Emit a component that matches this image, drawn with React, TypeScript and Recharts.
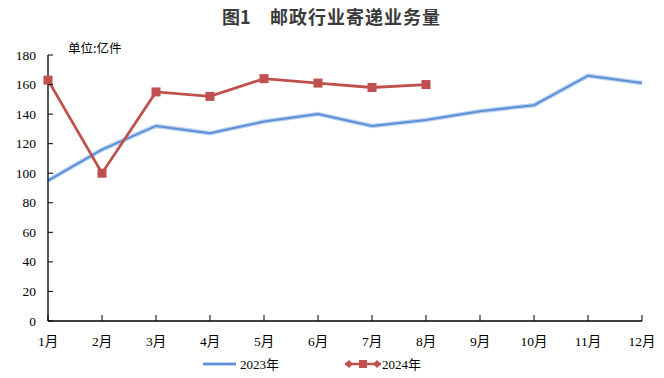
import React from 'react';
import { LineChart, Line, XAxis, YAxis, Legend } from 'recharts';

const months = ['1月', '2月', '3月', '4月', '5月', '6月', '7月', '8月', '9月', '10月', '11月', '12月'];
const y2023 = [95, 116, 132, 127, 135, 140, 132, 136, 142, 146, 166, 161];
const y2024: (number | null)[] = [163, 100, 155, 152, 164, 161, 158, 160, null, null, null, null];
const yTicks = [0, 20, 40, 60, 80, 100, 120, 140, 160, 180];

const data = months.map((m, i) => ({ month: m, a: y2023[i], b: y2024[i] }));

const BLUE = '#5b8fd6';
const BLUE_HALO = '#bcd2f0';
const RED = '#c0504d';
const FONT = '"Liberation Serif", "Noto Sans CJK SC", serif';

const XTick = (props: any) => {
  const { x, y, payload } = props;
  return (
    <g>
      <line x1={x} y1={y} x2={x} y2={y - 6} stroke="#000" strokeWidth={1} />
      <text x={x} y={y + 25} textAnchor="middle" fontSize={13.5} fill="#000" fontFamily={FONT}>
        {payload.value}
      </text>
    </g>
  );
};

const YTick = (props: any) => {
  const { x, y, payload } = props;
  return (
    <g>
      <line x1={x} y1={y} x2={x + 5} y2={y} stroke="#000" strokeWidth={1} />
      <text x={x - 12} y={y + 4.5} textAnchor="end" fontSize={13.5} fill="#000" fontFamily={FONT}>
        {payload.value}
      </text>
    </g>
  );
};

const LegendContent = () => (
  <svg width={664} height={20}>
    <line x1={203} y1={10} x2={236} y2={10} stroke={BLUE_HALO} strokeWidth={4} />
    <line x1={203} y1={10} x2={236} y2={10} stroke={BLUE} strokeWidth={2} />
    <text x={240} y={15} fontSize={13} fontFamily={FONT} fill="#000">2023年</text>
    <line x1={345} y1={10} x2={381} y2={10} stroke={RED} strokeWidth={2.5} />
    <path d="M345,10 L349,6 L353,10 L349,14 Z" fill={RED} />
    <rect x={359} y={6} width={8} height={8} fill={RED} />
    <path d="M373,10 L377,6 L381,10 L377,14 Z" fill={RED} />
    <text x={382} y={15} fontSize={13} fontFamily={FONT} fill="#000">2024年</text>
  </svg>
);

const SquareDot = (props: any) => {
  const { cx, cy, value } = props;
  if (value == null || cx == null) return null;
  return <rect x={cx - 4.5} y={cy - 4.5} width={9} height={9} fill={RED} />;
};

const titleStyle: React.CSSProperties = {
  position: 'absolute', top: 4, fontSize: 18, fontWeight: 'bold', lineHeight: '24px',
  fontFamily: '"Noto Sans CJK SC", sans-serif', color: '#3a3a3a', whiteSpace: 'pre',
};

export default function App() {
  return (
    <div style={{ position: 'absolute', left: 0, top: 0, width: 664, height: 378, background: '#fff' }}>
      <div style={{ ...titleStyle, left: 222 }}>图1</div>
      <div style={{ ...titleStyle, left: 270, letterSpacing: 1 }}>邮政行业寄递业务量</div>
      <div
        style={{
          position: 'absolute', left: 68, top: 38, fontSize: 12.5,
          fontFamily: '"Noto Sans CJK SC", sans-serif', color: '#000',
        }}
      >
        单位:亿件
      </div>
      <LineChart width={664} height={378} data={data} margin={{ top: 55, right: 22, bottom: 4, left: 8 }}>
        <XAxis
          dataKey="month"
          interval={0}
          tick={<XTick />}
          tickLine={false}
          tickSize={0}
          tickMargin={0}
          height={33}
          axisLine={{ stroke: '#000', strokeWidth: 1.3 }}
        />
        <YAxis
          domain={[0, 180]}
          ticks={yTicks}
          interval={0}
          tick={<YTick />}
          tickLine={false}
          tickSize={0}
          tickMargin={0}
          width={40}
          axisLine={{ stroke: '#000', strokeWidth: 1.3 }}
        />
        <Legend verticalAlign="bottom" height={20} content={<LegendContent />} wrapperStyle={{ left: 0, width: 664 }} />
        <Line dataKey="a" stroke={BLUE_HALO} strokeWidth={4.5} dot={false} activeDot={false} isAnimationActive={false} legendType="none" />
        <Line dataKey="a" stroke={BLUE} strokeWidth={2} dot={false} activeDot={false} isAnimationActive={false} />
        <Line dataKey="b" stroke={RED} strokeWidth={2.8} dot={<SquareDot />} activeDot={false} isAnimationActive={false} />
      </LineChart>
    </div>
  );
}
